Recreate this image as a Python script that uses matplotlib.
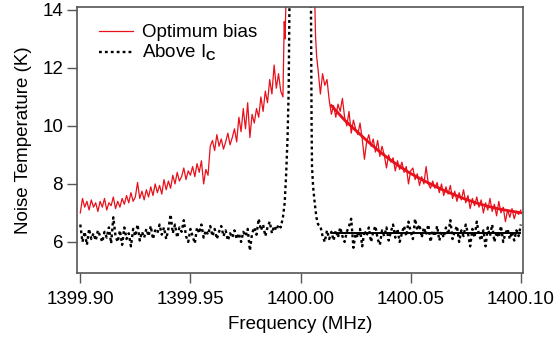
import numpy as np
import matplotlib
matplotlib.use('Agg')
import matplotlib.pyplot as plt

plt.rcParams['font.family'] = ['Liberation Sans', 'DejaVu Sans']
plt.rcParams['mathtext.fontset'] = 'custom'
plt.rcParams['mathtext.rm'] = 'Liberation Sans'
plt.rcParams['mathtext.bf'] = 'Liberation Sans:bold'

# frequency grids (MHz), 1 kHz steps
f_left = 1399.900 + 0.001 * np.arange(92)       # 1399.900 .. 1399.991
f_right_red = 1400.008 + 0.001 * np.arange(93)   # 1400.008 .. 1400.100
f_right_blk = 1400.009 + 0.001 * np.arange(92)   # 1400.009 .. 1400.100

# optimum bias, noisy trace (K)
red_left = [7.0, 7.5, 7.2, 7.4, 7.1, 7.45, 7.2, 7.35, 7.05, 7.4,
            7.2, 7.5, 7.1, 7.35, 7.25, 7.55, 7.15, 7.4, 7.2, 7.5,
            7.3, 7.6, 7.35, 7.7, 7.4, 7.55, 8.05, 7.5, 7.75, 7.45,
            7.8, 7.55, 7.9, 7.6, 8.0, 7.7, 7.95, 7.65, 8.15, 7.8,
            8.1, 7.85, 8.3, 8.0, 8.4, 8.1, 8.25, 8.55, 8.15, 8.45,
            8.3, 8.6, 8.25, 8.7, 8.4, 8.8, 8.0, 8.5, 8.3, 9.3,
            9.5, 9.15, 9.7, 9.3, 9.55, 9.2, 9.45, 9.75, 9.35, 9.6,
            9.9, 9.45, 10.3, 9.8, 10.6, 9.9, 10.8, 9.6, 10.4, 10.1,
            10.6, 10.3, 11.0, 10.5, 11.2, 10.8, 11.6, 11.1, 12.1, 11.3,
            11.8, 11.2]
red_peak_f = [1399.9920, 1399.9926, 1399.9930, 1399.9934, 1400.0000,
              1400.0064, 1400.0068, 1400.0073]
red_peak_v = [11.0, 13.6, 13.0, 14.5, 20.0, 14.5, 13.1, 12.4]
red_right = [11.9, 11.1, 11.8, 11.4, 11.6, 10.9, 10.4, 10.7, 10.3, 10.75,
             10.5, 10.95, 10.3, 10.0, 10.5, 9.75, 10.2, 9.9, 9.7, 10.1,
             9.55, 8.85, 9.45, 9.7, 9.3, 9.55, 9.1, 9.5, 8.95, 9.3,
             9.0, 8.55, 9.0, 8.75, 8.9, 8.45, 8.8, 8.5, 8.75, 8.4,
             8.6, 8.0, 8.45, 8.55, 8.15, 8.35, 7.95, 8.25, 8.0, 8.6,
             8.0, 7.85, 8.1, 7.85, 8.05, 7.7, 8.0, 7.6, 7.9, 7.65,
             7.95, 7.5, 7.75, 7.4, 7.7, 7.45, 7.8, 7.35, 7.6, 7.15,
             7.5, 7.25, 7.55, 7.2, 7.45, 7.0, 7.35, 7.1, 7.5, 7.05,
             7.3, 6.9, 7.4, 7.0, 7.2, 6.7, 7.1, 6.85, 7.15, 6.8,
             7.05, 6.95, 7.1]

# above Ic, noisy trace (K)
blk_left = [6.6, 6.0, 6.35, 5.9, 6.45, 6.1, 6.3, 6.05, 6.4, 6.2,
            6.0, 6.35, 6.15, 6.5, 5.95, 6.85, 6.2, 6.0, 6.4, 5.9,
            6.5, 6.1, 6.3, 5.85, 6.45, 6.2, 6.6, 6.05, 6.35, 6.15,
            6.45, 6.2, 6.55, 6.1, 6.4, 6.3, 6.6, 6.25, 6.5, 6.1,
            6.45, 6.95, 6.3, 6.6, 6.15, 6.5, 6.35, 6.75, 6.2, 6.0,
            6.45, 6.2, 5.95, 6.5, 6.3, 6.6, 6.15, 6.4, 6.25, 6.55,
            6.2, 6.45, 6.1, 6.35, 6.55, 6.2, 6.4, 6.05, 6.3, 6.15,
            6.4, 6.1, 6.3, 6.0, 6.35, 6.2, 6.45, 5.7, 6.3, 6.5,
            6.25, 6.8, 6.4, 6.6, 6.2, 6.5, 6.7, 6.3, 6.55, 6.4,
            6.6, 6.5]
blk_peak_f = [1399.9920, 1399.9928, 1399.9935, 1399.9941, 1399.9946, 1399.9950,
              1400.0000, 1400.0047, 1400.0050, 1400.0052, 1400.0057,
              1400.0065, 1400.0072, 1400.0080]
blk_peak_v = [6.85, 7.35, 8.4, 9.6, 11.2, 14.5,
              25.0, 14.5, 10.2, 8.6, 7.9,
              7.3, 6.85, 6.6]
blk_right = [6.55, 6.2, 6.0, 6.4, 6.1, 6.35,
             6.05, 6.4, 6.15, 6.5, 6.2,
             6.0, 6.35, 6.55, 6.8, 5.8, 6.3, 6.15, 6.45, 5.85, 6.4,
             6.2, 6.5, 6.0, 6.35, 6.55, 6.1, 5.9, 6.4, 6.2, 6.5,
             6.05, 6.35, 6.6, 6.15, 6.45, 6.0, 6.3, 6.55, 6.2, 6.7,
             6.35, 6.1, 6.8, 6.4, 6.6, 6.15, 6.5, 6.25, 6.6, 6.0,
             6.4, 6.2, 6.55, 6.05, 6.35, 6.15, 6.5, 6.25, 6.75, 6.1,
             6.35, 6.55, 6.0, 6.4, 6.2, 6.6, 6.3, 5.85, 6.45, 6.15,
             6.7, 6.25, 6.05, 6.4, 5.85, 6.5, 6.2, 6.6, 6.0, 6.35,
             6.15, 6.55, 6.0, 6.3, 6.45, 6.1, 6.35, 6.05, 6.4, 6.2,
             6.6]

# fits
fit_red_f = [1400.014, 1400.020, 1400.025, 1400.030, 1400.035, 1400.040,
             1400.045, 1400.050, 1400.055, 1400.060, 1400.065, 1400.070,
             1400.075, 1400.080, 1400.085, 1400.090, 1400.095, 1400.100]
fit_red_v = [10.7, 10.2, 9.85, 9.5, 9.17, 8.87, 8.6, 8.36, 8.15, 7.96,
             7.78, 7.62, 7.47, 7.34, 7.23, 7.14, 7.07, 7.01]
fit_blk_f = [1400.0147, 1400.0995]
fit_blk_v = [6.32, 6.32]

red_f = np.concatenate([f_left, red_peak_f, f_right_red])
red_v = np.concatenate([red_left, red_peak_v, red_right])
blk_f = np.concatenate([f_left, blk_peak_f, f_right_blk])
blk_v = np.concatenate([blk_left, blk_peak_v, blk_right])

fig = plt.figure(figsize=(5.57, 3.43), dpi=100)
ax = fig.add_axes([0.1382, 0.2041, 0.8008, 0.7755])

ax.plot(red_f, red_v, color='#e8101a', lw=0.9, label='Optimum bias')
ax.plot(blk_f, blk_v, color='black', lw=1.7, ls=(0, (1.2, 1.3)), label=r'Above I$_\mathbf{C}$')
ax.plot(fit_red_f, fit_red_v, color='#e8101a', lw=2.0)
ax.plot(fit_blk_f, fit_blk_v, color='black', lw=1.4)

ax.set_xlim(1399.8985, 1400.101)
ax.set_ylim(4.93, 14.1)
ax.set_xticks([1399.90, 1399.95, 1400.00, 1400.05, 1400.10])
ax.set_xticklabels(['1399.90', '1399.95', '1400.00', '1400.05', '1400.10'])
ax.set_yticks([6, 8, 10, 12, 14])

for s in ax.spines.values():
    s.set_color('#555555')
    s.set_linewidth(1.2)
ax.tick_params(direction='out', length=7, width=1.0, color='#555555',
               labelsize=13.5, top=False, right=False)
ax.tick_params(axis='x', pad=6)
ax.tick_params(axis='y', pad=3)

ax.set_xlabel('Frequency (MHz)', fontsize=13.5, labelpad=6)
ax.set_ylabel('Noise Temperature (K)', fontsize=13.5, labelpad=7)

ax.legend(loc='upper left', bbox_to_anchor=(0.02, 0.985), frameon=False,
          fontsize=13.5, handlelength=1.8, handletextpad=0.5, labelspacing=0.1,
          borderaxespad=0.3)

fig.savefig('out.png', dpi=100)
